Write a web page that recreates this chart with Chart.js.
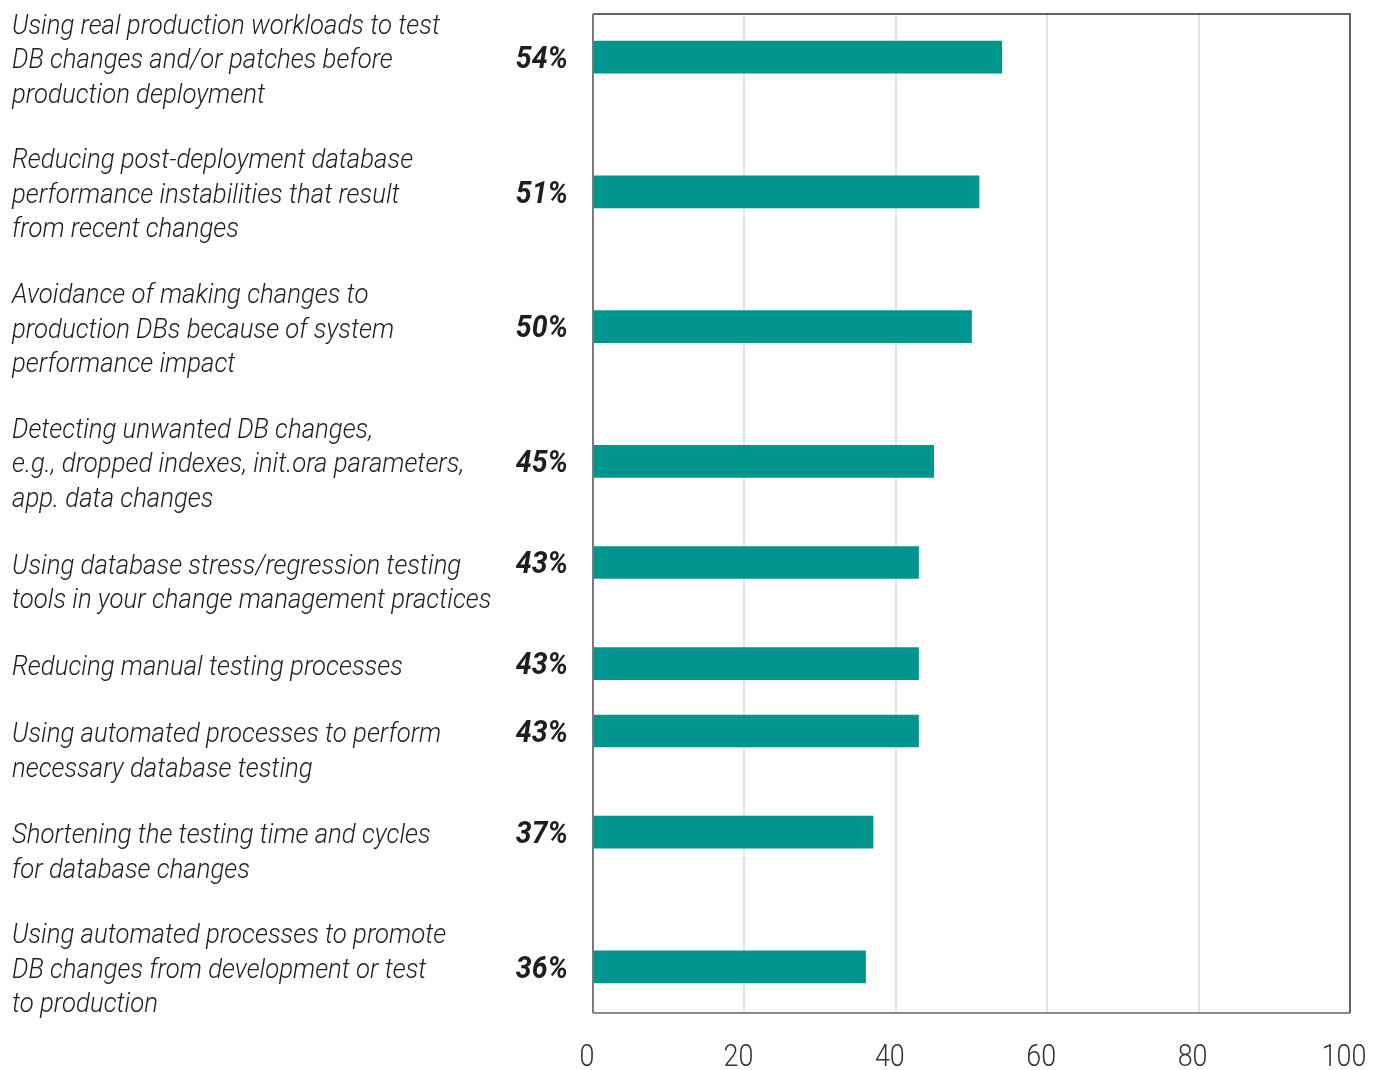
<!DOCTYPE html>
<html lang="en">
<head>
    <meta charset="UTF-8">
    <title>Database change management priorities</title>
    <style>
        html, body {
            margin: 0;
            padding: 0;
            background: #ffffff;
        }
        #wrap {
            width: 1382px;
            height: 1070px;
        }
    </style>
    <script src="https://cdn.jsdelivr.net/npm/chart.js"></script>
</head>
<body>
<div id="wrap"><canvas id="priorityChart"></canvas></div>

<script>
    // answer categories, each entry is the lines of the label
    var categories = [
        ['Using real production workloads to test', 'DB changes and/or patches before', 'production deployment'],
        ['Reducing post-deployment database', 'performance instabilities that result', 'from recent changes'],
        ['Avoidance of making changes to', 'production DBs because of system', 'performance impact'],
        ['Detecting unwanted DB changes,', 'e.g., dropped indexes, init.ora parameters,', 'app. data changes'],
        ['Using database stress/regression testing', 'tools in your change management practices'],
        ['Reducing manual testing processes'],
        ['Using automated processes to perform', 'necessary database testing'],
        ['Shortening the testing time and cycles', 'for database changes'],
        ['Using automated processes to promote', 'DB changes from development or test', 'to production']
    ];
    var percentages = [54, 51, 50, 45, 43, 43, 43, 37, 36];
    // row slot of each bar on the vertical axis (rows are not evenly spaced)
    var rowSlots = [0, 4, 8, 12, 15, 18, 20, 23, 27];
    var xTicks = [0, 20, 40, 60, 80, 100];

    var FONT = 'Roboto, "DejaVu Sans Condensed", sans-serif';
    var TEAL = '#00968f';

    // text drawn squeezed horizontally to get a condensed face
    function condensedText(ctx, txt, x, y, squeeze) {
        ctx.save();
        ctx.translate(x, y);
        ctx.scale(squeeze, 1);
        ctx.fillText(txt, 0, 0);
        ctx.restore();
    }

    // category text and the bold percentage next to each bar
    var rowLabels = {
        id: 'rowLabels',
        afterDatasetsDraw: function (chart) {
            var ctx = chart.ctx;
            var y = chart.scales.y;
            var lineH = 34.6;
            ctx.save();
            ctx.fillStyle = '#1e1e1e';
            ctx.textBaseline = 'middle';
            categories.forEach(function (lines, i) {
                var cy = y.getPixelForValue(rowSlots[i]);
                var anchor = Math.floor((lines.length - 1) / 2);
                ctx.font = 'italic 300 28px ' + FONT;
                ctx.textAlign = 'left';
                lines.forEach(function (txt, j) {
                    condensedText(ctx, txt, 12, cy + 4 + (j - anchor) * lineH, 0.92);
                });
                ctx.font = 'italic bold 31px ' + FONT;
                ctx.textAlign = 'right';
                condensedText(ctx, percentages[i] + '%', 568, cy + 3, 0.92);
            });
            ctx.restore();
        }
    };

    // x tick labels, condensed, placed from the x scale
    var xTickLabels = {
        id: 'xTickLabels',
        afterDraw: function (chart) {
            var ctx = chart.ctx;
            var x = chart.scales.x;
            ctx.save();
            ctx.fillStyle = '#333333';
            ctx.font = '300 32px ' + FONT;
            ctx.textAlign = 'center';
            ctx.textBaseline = 'middle';
            x.ticks.forEach(function (t) {
                condensedText(ctx, String(t.value), x.getPixelForValue(t.value) - 6, chart.chartArea.bottom + 45, 0.84);
            });
            ctx.restore();
        }
    };

    // frame round the plot area
    var plotFrame = {
        id: 'plotFrame',
        afterDatasetsDraw: function (chart) {
            var a = chart.chartArea;
            var ctx = chart.ctx;
            ctx.save();
            ctx.strokeStyle = '#333333';
            ctx.lineWidth = 1.5;
            ctx.beginPath();
            ctx.moveTo(a.left, a.top);
            ctx.lineTo(a.right, a.top);
            ctx.lineTo(a.right, a.bottom);
            ctx.stroke();
            ctx.strokeStyle = '#666666';
            ctx.beginPath();
            ctx.moveTo(a.right, a.bottom);
            ctx.lineTo(a.left, a.bottom);
            ctx.stroke();
            ctx.strokeStyle = '#7a7a7a';
            ctx.lineWidth = 2;
            ctx.beginPath();
            ctx.moveTo(a.left, a.top);
            ctx.lineTo(a.left, a.bottom);
            ctx.stroke();
            ctx.restore();
        }
    };

    var points = percentages.map(function (v, i) {
        return { x: v, y: rowSlots[i] };
    });

    var ctx = document.getElementById('priorityChart').getContext('2d');
    var priorityChart = new Chart(ctx, {
        type: 'bar',
        data: {
            datasets: [{
                data: points,
                backgroundColor: TEAL,
                borderWidth: 0,
                barThickness: 32
            }]
        },
        options: {
            indexAxis: 'y',
            responsive: true,
            maintainAspectRatio: false,
            animation: false,
            layout: {
                padding: { top: 14, right: 32, left: 0, bottom: 0 }
            },
            plugins: {
                legend: { display: false },
                tooltip: { enabled: false }
            },
            scales: {
                x: {
                    type: 'linear',
                    min: 0,
                    max: 100,
                    afterBuildTicks: function (scale) {
                        scale.ticks = xTicks.map(function (v) { return { value: v }; });
                    },
                    afterFit: function (scale) {
                        scale.height = 57;
                    },
                    border: { display: false },
                    grid: {
                        color: function (c) {
                            return (c.tick && (c.tick.value === 0 || c.tick.value === 100)) ? 'rgba(0,0,0,0)' : '#e4e4e4';
                        },
                        lineWidth: 2,
                        drawTicks: false
                    },
                    ticks: { display: false }
                },
                y: {
                    type: 'linear',
                    reverse: true,
                    offset: false,
                    min: -1.28,
                    max: 28.37,
                    afterFit: function (scale) {
                        scale.width = 593;
                    },
                    border: { display: false },
                    grid: { display: false },
                    ticks: { display: false }
                }
            }
        },
        plugins: [rowLabels, xTickLabels, plotFrame]
    });
</script>
</body>
</html>
